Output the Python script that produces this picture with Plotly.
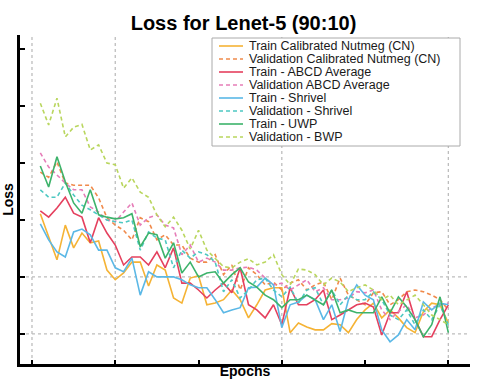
import plotly.graph_objects as go

# ---- data ----
epochs = list(range(1, 51))

train_cn = [0.311, 0.270, 0.230, 0.291, 0.251, 0.277, 0.260, 0.263, 0.212, 0.195,
            0.207, 0.226, 0.226, 0.184, 0.221, 0.212, 0.163, 0.154, 0.198, 0.202,
            0.151, 0.154, 0.160, 0.177, 0.160, 0.128, 0.151, 0.177, 0.181, 0.181,
            0.102, 0.119, 0.112, 0.107, 0.107, 0.118, 0.116, 0.102, 0.125, 0.142,
            0.154, 0.128, 0.142, 0.128, 0.111, 0.102, 0.139, 0.154, 0.151, 0.119]

val_cn = [0.384, 0.375, 0.402, 0.365, 0.361, 0.361, 0.361, 0.339, 0.304, 0.291,
          0.282, 0.265, 0.304, 0.297, 0.265, 0.274, 0.256, 0.256, 0.233, 0.226,
          0.226, 0.239, 0.204, 0.221, 0.177, 0.216, 0.204, 0.186, 0.191, 0.177,
          0.189, 0.195, 0.177, 0.186, 0.191, 0.160, 0.198, 0.168, 0.160, 0.151,
          0.172, 0.174, 0.151, 0.160, 0.174, 0.177, 0.174, 0.168, 0.160, 0.142]

train_abcd = [0.316, 0.305, 0.321, 0.340, 0.312, 0.305, 0.260, 0.304, 0.277, 0.256,
              0.221, 0.235, 0.235, 0.221, 0.244, 0.216, 0.251, 0.189, 0.189, 0.177,
              0.163, 0.177, 0.189, 0.172, 0.216, 0.151, 0.142, 0.128, 0.151, 0.116,
              0.181, 0.151, 0.151, 0.160, 0.177, 0.125, 0.133, 0.142, 0.151, 0.154,
              0.147, 0.098, 0.137, 0.137, 0.174, 0.125, 0.095, 0.095, 0.125, 0.151]

val_abcd = [0.418, 0.393, 0.379, 0.365, 0.353, 0.353, 0.323, 0.314, 0.300, 0.297,
            0.314, 0.330, 0.291, 0.304, 0.309, 0.291, 0.286, 0.239, 0.256, 0.226,
            0.233, 0.226, 0.212, 0.212, 0.216, 0.217, 0.212, 0.198, 0.186, 0.189,
            0.177, 0.186, 0.195, 0.174, 0.181, 0.160, 0.160, 0.163, 0.174, 0.172,
            0.177, 0.142, 0.125, 0.139, 0.151, 0.128, 0.133, 0.146, 0.151, 0.154]

train_shrivel = [0.293, 0.265, 0.244, 0.235, 0.279, 0.284, 0.274, 0.247, 0.247, 0.216,
                 0.209, 0.233, 0.168, 0.209, 0.200, 0.200, 0.200, 0.195, 0.186, 0.181,
                 0.181, 0.160, 0.137, 0.142, 0.146, 0.181, 0.182, 0.198, 0.186, 0.111,
                 0.151, 0.156, 0.168, 0.160, 0.125, 0.151, 0.104, 0.160, 0.186, 0.168,
                 0.160, 0.107, 0.086, 0.098, 0.125, 0.107, 0.156, 0.142, 0.154, 0.151]

val_shrivel = [0.353, 0.340, 0.340, 0.365, 0.344, 0.326, 0.318, 0.309, 0.300, 0.297,
               0.295, 0.300, 0.247, 0.279, 0.268, 0.265, 0.216, 0.247, 0.233, 0.244,
               0.239, 0.226, 0.174, 0.195, 0.163, 0.177, 0.195, 0.198, 0.177, 0.165,
               0.182, 0.154, 0.177, 0.181, 0.151, 0.177, 0.151, 0.168, 0.160, 0.160,
               0.174, 0.160, 0.133, 0.125, 0.142, 0.116, 0.142, 0.125, 0.151, 0.116]

train_uwp = [0.395, 0.358, 0.411, 0.367, 0.330, 0.312, 0.353, 0.309, 0.305, 0.302,
             0.304, 0.311, 0.253, 0.277, 0.274, 0.233, 0.260, 0.207, 0.226, 0.200,
             0.207, 0.209, 0.189, 0.204, 0.216, 0.191, 0.182, 0.168, 0.160, 0.146,
             0.160, 0.160, 0.168, 0.160, 0.151, 0.177, 0.137, 0.142, 0.137, 0.137,
             0.137, 0.165, 0.137, 0.165, 0.147, 0.125, 0.095, 0.116, 0.165, 0.102]

val_bwp = [0.505, 0.467, 0.514, 0.446, 0.463, 0.468, 0.423, 0.432, 0.400, 0.397,
           0.356, 0.374, 0.349, 0.340, 0.309, 0.288, 0.305, 0.282, 0.249, 0.282,
           0.247, 0.233, 0.218, 0.216, 0.226, 0.232, 0.221, 0.226, 0.239, 0.204,
           0.186, 0.214, 0.212, 0.204, 0.186, 0.198, 0.191, 0.174, 0.181, 0.186,
           0.177, 0.160, 0.168, 0.151, 0.160, 0.168, 0.151, 0.133, 0.125, 0.116]

names = ["Train Calibrated Nutmeg (CN)", "Validation Calibrated Nutmeg (CN)",
         "Train - ABCD Average", "Validation ABCD Average",
         "Train - Shrivel", "Validation - Shrivel",
         "Train - UWP", "Validation - BWP"]
series = [train_cn, val_cn, train_abcd, val_abcd,
          train_shrivel, val_shrivel, train_uwp, val_bwp]
colors = ["#F5B335", "#F08A4B", "#E5405E", "#E67DB8",
          "#5BB8E6", "#4DC8C2", "#3DB36B", "#B9D65E"]
dashes = ["solid", "4px,3px", "solid", "4px,3px",
          "solid", "4px,3px", "solid", "4px,3px"]

grid_epochs = [0, 10, 30, 50]
grid_losses = [0.1, 0.2]

FONT = "Liberation Sans, Arial, sans-serif"

fig = go.Figure()
for nm, ys, c, d in zip(names, series, colors, dashes):
    fig.add_trace(go.Scatter(x=epochs, y=ys, mode="lines", name=nm,
                             line=dict(color=c, width=1.6, dash=d),
                             showlegend=False))

for e in grid_epochs:
    fig.add_vline(x=e, line=dict(color="#bdbdbd", width=1.3, dash="dot"), layer="below")
for v in grid_losses:
    fig.add_hline(y=v, line=dict(color="#bdbdbd", width=1.3, dash="dot"), layer="below")

# hand-made compact legend (plotly's own legend rows are too tall for 8 entries)
L, R, T, B = 20, 470, 35, 364
px_x = lambda p: (p - L) / (R - L)
px_y = lambda p: (B - p) / (B - T)
fig.add_shape(type="rect", xref="paper", yref="paper",
              x0=px_x(212), x1=px_x(460), y0=px_y(146), y1=px_y(38),
              fillcolor="white", line=dict(color="#aaaaaa", width=1), layer="above")
for i, (nm, c, d) in enumerate(zip(names, colors, dashes)):
    yy = px_y(46 + 13.0 * i)
    fig.add_shape(type="line", xref="paper", yref="paper",
                  x0=px_x(219), x1=px_x(243), y0=yy, y1=yy,
                  line=dict(color=c, width=1.6, dash=d), layer="above")
    fig.add_annotation(text=nm, xref="paper", yref="paper", x=px_x(247), y=yy,
                       xanchor="left", yanchor="middle", showarrow=False,
                       font=dict(family=FONT, size=12.5, color="#1a1a1a"))

fig.update_layout(
    width=480, height=383,
    margin=dict(l=L, r=480 - R, t=T, b=383 - B),
    plot_bgcolor="white", paper_bgcolor="white",
    font=dict(family=FONT, color="black"),
    title=dict(text="Loss for Lenet-5 (90:10)", x=243.5 / 480, xanchor="center",
               y=1 - 23 / 383, yanchor="middle",
               font=dict(family=FONT, size=20, weight="bold", color="black")),
    showlegend=False,
)
fig.update_xaxes(range=[-1.44, 52.6], tickvals=[0, 10, 20, 30, 40, 50],
                 ticks="inside", ticklen=4, tickwidth=2, tickcolor="black",
                 showticklabels=False, showgrid=False, zeroline=False,
                 showline=True, linecolor="black", linewidth=3, automargin=False,
                 title=dict(text="Epochs", standoff=1,
                            font=dict(family=FONT, size=14, weight="bold")))
fig.update_yaxes(range=[0.047, 0.625], tickvals=[0.1, 0.2, 0.3, 0.4, 0.5, 0.6],
                 ticks="inside", ticklen=5, tickwidth=2, tickcolor="black",
                 showticklabels=False, showgrid=False, zeroline=False,
                 showline=True, linecolor="black", linewidth=3, automargin=False,
                 title=dict(text="Loss", standoff=2,
                            font=dict(family=FONT, size=14, weight="bold")))

# the page body has an 8px default margin; drop it so the figure sits at (0, 0)
fig.write_html("out.html", config={"displayModeBar": False},
               post_script="document.body.style.margin='0';")
